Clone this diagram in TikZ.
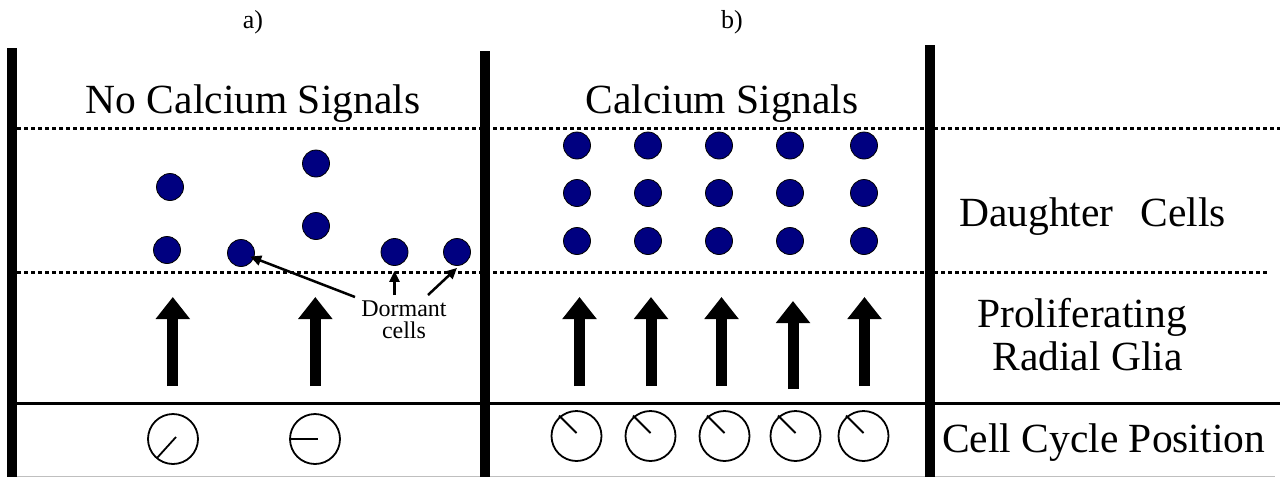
\documentclass[tikz,border=0pt]{standalone}
\usepackage{fontspec}
\setmainfont{Liberation Serif}
\usetikzlibrary{arrows.meta}
\definecolor{cellblue}{RGB}{0,0,128}
\begin{document}
\begin{tikzpicture}[x=1pt,y=-1pt,
  bar/.style={line width=10pt},
  dotline/.style={line width=3pt, dash pattern=on 4pt off 3pt},
  solidline/.style={line width=3pt},
  cell/.style={circle, draw=black, line width=0.8pt, fill=cellblue, minimum size=27pt, inner sep=0pt},
  clock/.style={circle, draw=black, line width=1.8pt, minimum size=50pt, inner sep=0pt},
  hand/.style={line width=1.8pt},
  bigarrow/.style={line width=11pt, -{Triangle[width=33pt,length=22pt]}},
  thinarrow/.style={line width=2.5pt, -{Triangle[width=10pt,length=11pt]}},
  big/.style={font=\fontsize{41.5}{45}\selectfont, inner sep=0pt},
  small/.style={font=\fontsize{26}{28}\selectfont, inner sep=0pt},
  note/.style={font=\fontsize{24}{22}\selectfont, inner sep=0pt, align=center}]
\useasboundingbox (0,0) rectangle (1280,477);

% horizontal lines
\draw[dotline] (17,128) -- (1280,128);
\draw[dotline] (17,272) -- (1267,272);
\draw[solidline] (17,403) -- (1280,403);
\draw[gray!50, line width=1pt] (17,476.5) -- (1275,476.5);

% vertical bars
\draw[bar] (12,48) -- (12,477);
\draw[bar] (484.5,51) -- (484.5,477);
\draw[bar] (929.5,45) -- (929.5,477);

% titles
\node[small, anchor=base] (la) at (253,28) {a)};
\node[small, anchor=base] (lb) at (732,28) {b)};
\node[big, anchor=base] (tnc) at (253,113) {No Calcium Signals};
\node[big, anchor=base] (tc) at (722,113) {Calcium Signals};
\node[big, anchor=base west] (tdc) at (959,226) {Daughter\hspace{27pt}Cells};
\node[big, anchor=base] (tpr) at (1082,327) {Proliferating};
\node[big, anchor=base] (trg) at (1087.5,370) {Radial Glia};
\node[big, anchor=base west] (tcc) at (942,452) {Cell Cycle Position};

% panel a cells
\node[cell] (c1) at (170,187) {};
\node[cell] (c2) at (167,250) {};
\node[cell] (c3) at (241,253) {};
\node[cell] (c4) at (316,163.5) {};
\node[cell] (c5) at (316,226) {};
\node[cell] (c6) at (394.5,252) {};
\node[cell] (c7) at (457,252) {};

% panel b cells
\foreach \x [count=\i] in {577,648,719,790,864}{
  \foreach \y [count=\j] in {145.5,193,241}{
    \node[cell] (g\i\j) at (\x,\y) {};
  }
}

% dormant label and arrows
\node[note] (dorm) at (404,320) {Dormant\\cells};
\coordinate (d1) at (355,297);
\coordinate (d2) at (394.5,295);
\coordinate (d3) at (428,295);
\draw[thinarrow, shorten >=-4pt] (d1) -- (c3);
\draw[thinarrow] (d2) -- ([yshift=-5pt]c6.south);
\draw[thinarrow] (d3) -- ([yshift=-2pt]c7.south);

% big arrows panel a
\foreach \x/\n in {172.8/a1,315.3/a2}{
  \coordinate (\n s) at (\x,386);
  \coordinate (\n e) at (\x,297);
  \draw[bigarrow] (\n s) -- (\n e);
}
% big arrows panel b
\foreach \x/\b/\t/\n in {579.5/386/297/b1,651/386/297/b2,721.5/386/297/b3,793/389/301/b4,864.5/386/297/b5}{
  \coordinate (\n s) at (\x,\b);
  \coordinate (\n e) at (\x,\t);
  \draw[bigarrow] (\n s) -- (\n e);
}

% clocks panel a
\node[clock] (k1) at (173,439) {};
\node[clock] (k2) at (315,439) {};
\draw[hand] ([shift={(3,-2)}]k1.center) -- ++(-19,21);
\draw[hand] (k2.west) -- ([xshift=3pt]k2.center);

% clocks panel b
\foreach \x [count=\i] in {576.5,650.5,724.5,795.5,863.5}{
  \node[clock] (m\i) at (\x,436) {};
  \draw[hand] ([shift={(0,-3)}]m\i.center) -- ++(-17.5,-17.5);
}
\end{tikzpicture}
\end{document}
